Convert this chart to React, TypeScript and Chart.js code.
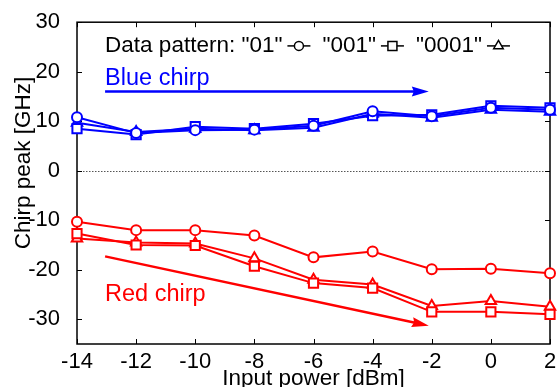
import React, { useEffect, useRef } from "react";
import { Chart, registerables } from "chart.js";

Chart.register(...registerables);

const FONT = "'Liberation Sans', Arial, sans-serif";

// Input power sweep [dBm]
const inputPower = [-14, -12, -10, -8, -6, -4, -2, 0, 2];

// Blue chirp peak [GHz] per data pattern
const blue01 = [10.8, 7.6, 8.2, 8.3, 9.1, 12.0, 11.0, 12.7, 12.3];
const blue001 = [8.5, 7.3, 8.9, 8.5, 9.5, 11.1, 11.3, 13.1, 12.7];
const blue0001 = [9.7, 7.8, 8.5, 8.2, 8.7, 11.5, 10.7, 12.3, 11.9];

// Red chirp peak [GHz] per data pattern
const red01 = [-10.3, -12.0, -12.0, -13.1, -17.5, -16.3, -19.9, -19.8, -20.7];
const red001 = [-12.7, -15.0, -15.1, -19.3, -22.7, -23.7, -28.5, -28.5, -29.0];
const red0001 = [-13.7, -14.5, -14.7, -17.7, -22.0, -23.0, -27.3, -26.3, -27.5];

const patternLabels = ['"01"', '"001"', '"0001"'];
const patternStyles = ["circle", "rect", "triangle"];
const patternRadius = [5, 6.5, 6];

const BLUE = "#0000ff";
const RED = "#ff0000";

const toPoints = (ys: number[]) => inputPower.map((x, i) => ({ x, y: ys[i] }));

function makeDataset(label: string, ys: number[], color: string, k: number) {
  return {
    label,
    data: toPoints(ys),
    borderColor: color,
    borderWidth: 2,
    pointStyle: patternStyles[k],
    pointRadius: patternRadius[k],
    pointBorderWidth: 2,
    pointBorderColor: color,
    pointBackgroundColor: "#ffffff",
    showLine: true,
    fill: false,
    tension: 0,
    clip: false as const,
  };
}

function drawMarker(ctx: CanvasRenderingContext2D, style: string, x: number, y: number) {
  ctx.beginPath();
  if (style === "circle") {
    ctx.arc(x, y, 4.5, 0, Math.PI * 2);
  } else if (style === "rect") {
    ctx.rect(x - 4.5, y - 4.5, 9, 9);
  } else {
    const r = 5.5;
    ctx.moveTo(x, y - r);
    ctx.lineTo(x + r * 0.866, y + r * 0.5);
    ctx.lineTo(x - r * 0.866, y + r * 0.5);
    ctx.closePath();
  }
  ctx.fillStyle = "#ffffff";
  ctx.fill();
  ctx.stroke();
}

function drawArrow(
  ctx: CanvasRenderingContext2D,
  x1: number,
  y1: number,
  x2: number,
  y2: number,
  color: string
) {
  const ang = Math.atan2(y2 - y1, x2 - x1);
  const headLen = 17;
  const headHalf = 5;
  const bx = x2 - headLen * Math.cos(ang);
  const by = y2 - headLen * Math.sin(ang);
  ctx.strokeStyle = color;
  ctx.fillStyle = color;
  ctx.lineWidth = 2.5;
  ctx.beginPath();
  ctx.moveTo(x1, y1);
  ctx.lineTo(bx + 3 * Math.cos(ang), by + 3 * Math.sin(ang));
  ctx.stroke();
  ctx.beginPath();
  ctx.moveTo(x2, y2);
  ctx.lineTo(bx - headHalf * Math.sin(ang), by + headHalf * Math.cos(ang));
  ctx.lineTo(bx + 2 * Math.cos(ang), by + 2 * Math.sin(ang));
  ctx.lineTo(bx + headHalf * Math.sin(ang), by - headHalf * Math.cos(ang));
  ctx.closePath();
  ctx.fill();
}

const decorPlugin = {
  id: "decor",
  beforeDatasetsDraw(chart: any) {
    const { ctx, chartArea: a, scales } = chart;
    const xs = scales.x;
    const ys = scales.y;
    ctx.save();
    // dotted zero line
    const y0 = Math.round(ys.getPixelForValue(0)) + 0.5;
    ctx.strokeStyle = "#555555";
    ctx.lineWidth = 1;
    ctx.setLineDash([1.5, 1.5]);
    ctx.beginPath();
    ctx.moveTo(a.left, y0);
    ctx.lineTo(a.right, y0);
    ctx.stroke();
    ctx.setLineDash([]);

    // axes box
    ctx.strokeStyle = "#000000";
    ctx.lineWidth = 1.5;
    ctx.strokeRect(a.left, a.top, a.right - a.left, a.bottom - a.top);

    // inward tick marks on all four sides
    ctx.lineWidth = 1;
    const tl = 5;
    ctx.beginPath();
    xs.ticks.forEach((t: any) => {
      const px = Math.round(xs.getPixelForValue(t.value)) + 0.5;
      ctx.moveTo(px, a.bottom);
      ctx.lineTo(px, a.bottom - tl);
      ctx.moveTo(px, a.top);
      ctx.lineTo(px, a.top + tl);
    });
    ys.ticks.forEach((t: any) => {
      const py = Math.round(ys.getPixelForValue(t.value)) + 0.5;
      ctx.moveTo(a.left, py);
      ctx.lineTo(a.left + tl, py);
      ctx.moveTo(a.right, py);
      ctx.lineTo(a.right - tl, py);
    });
    ctx.stroke();
    ctx.restore();
  },
  afterDatasetsDraw(chart: any) {
    const { ctx, chartArea: a, scales } = chart;
    const xs = scales.x;
    const ys = scales.y;
    const X = (v: number) => xs.getPixelForValue(v);
    const Y = (v: number) => ys.getPixelForValue(v);
    ctx.save();
    ctx.font = `22.5px ${FONT}`;
    ctx.textBaseline = "alphabetic";
    ctx.textAlign = "left";

    // legend row
    let cx = X(-13.05);
    const base = Y(24);
    const my = base - 6;
    ctx.strokeStyle = "#000000";
    ctx.lineWidth = 1.5;
    patternLabels.forEach((lab, k) => {
      const txt = k === 0 ? `Data pattern: ${lab}` : lab;
      ctx.fillStyle = "#000000";
      ctx.fillText(txt, cx, base);
      cx += ctx.measureText(txt).width + 5;
      ctx.beginPath();
      ctx.moveTo(cx, my);
      ctx.lineTo(cx + 23, my);
      ctx.stroke();
      drawMarker(ctx, patternStyles[k], cx + 11.5, my);
      cx += 23 + 12;
    });

    // axis titles
    ctx.fillStyle = "#000000";
    ctx.textAlign = "center";
    ctx.fillText("Input power [dBm]", (a.left + a.right) / 2, 385);
    ctx.save();
    ctx.translate(30, 163);
    ctx.rotate(-Math.PI / 2);
    ctx.fillText("Chirp peak [GHz]", 0, 0);
    ctx.restore();

    // annotations
    ctx.textAlign = "left";
    ctx.font = `23.5px ${FONT}`;
    ctx.fillStyle = BLUE;
    ctx.fillText("Blue chirp", X(-13.05), Y(17.4));
    ctx.fillStyle = RED;
    ctx.fillText("Red chirp", X(-13.05), Y(-26.3));

    drawArrow(ctx, X(-13.05), Y(16), X(-2.1), Y(16), BLUE);
    drawArrow(ctx, X(-13.05), Y(-17.3), X(-2.1), Y(-31.3), RED);
    ctx.restore();
  },
};

export default function App() {
  const ref = useRef<HTMLCanvasElement | null>(null);

  useEffect(() => {
    document.body.style.margin = "0";
    const canvas = ref.current;
    if (!canvas) return;
    const datasets = [
      makeDataset('Blue "01"', blue01, BLUE, 0),
      makeDataset('Blue "001"', blue001, BLUE, 1),
      makeDataset('Blue "0001"', blue0001, BLUE, 2),
      makeDataset('Red "01"', red01, RED, 0),
      makeDataset('Red "001"', red001, RED, 1),
      makeDataset('Red "0001"', red0001, RED, 2),
    ];
    const chart = new Chart(canvas, {
      type: "line",
      data: { datasets },
      plugins: [decorPlugin],
      options: {
        responsive: false,
        animation: false,
        devicePixelRatio: 1,
        layout: { padding: { top: 20, right: 9, left: 0, bottom: 0 } },
        plugins: { legend: { display: false }, tooltip: { enabled: false } },
        scales: {
          x: {
            type: "linear",
            min: -14,
            max: 2,
            grid: { display: false },
            border: { display: false },
            ticks: {
              stepSize: 2,
              color: "#000000",
              font: { family: FONT, size: 22 },
              padding: -3,
              maxRotation: 0,
            },
            afterFit: (s: any) => {
              s.height = 43;
            },
          },
          y: {
            type: "linear",
            min: -35,
            max: 30,
            grid: { display: false },
            border: { display: false },
            ticks: {
              stepSize: 10,
              color: "#000000",
              font: { family: FONT, size: 22 },
              padding: 9,
            },
            afterBuildTicks: (s: any) => {
              s.ticks = s.ticks.filter((t: any) => t.value % 10 === 0);
            },
            afterFit: (s: any) => {
              s.width = 77;
            },
          },
        },
      },
    } as any);
    return () => chart.destroy();
  }, []);

  return (
    <div style={{ position: "absolute", left: 0, top: 0, width: 559, height: 387 }}>
      <canvas ref={ref} width={559} height={387} style={{ display: "block" }} />
    </div>
  );
}
